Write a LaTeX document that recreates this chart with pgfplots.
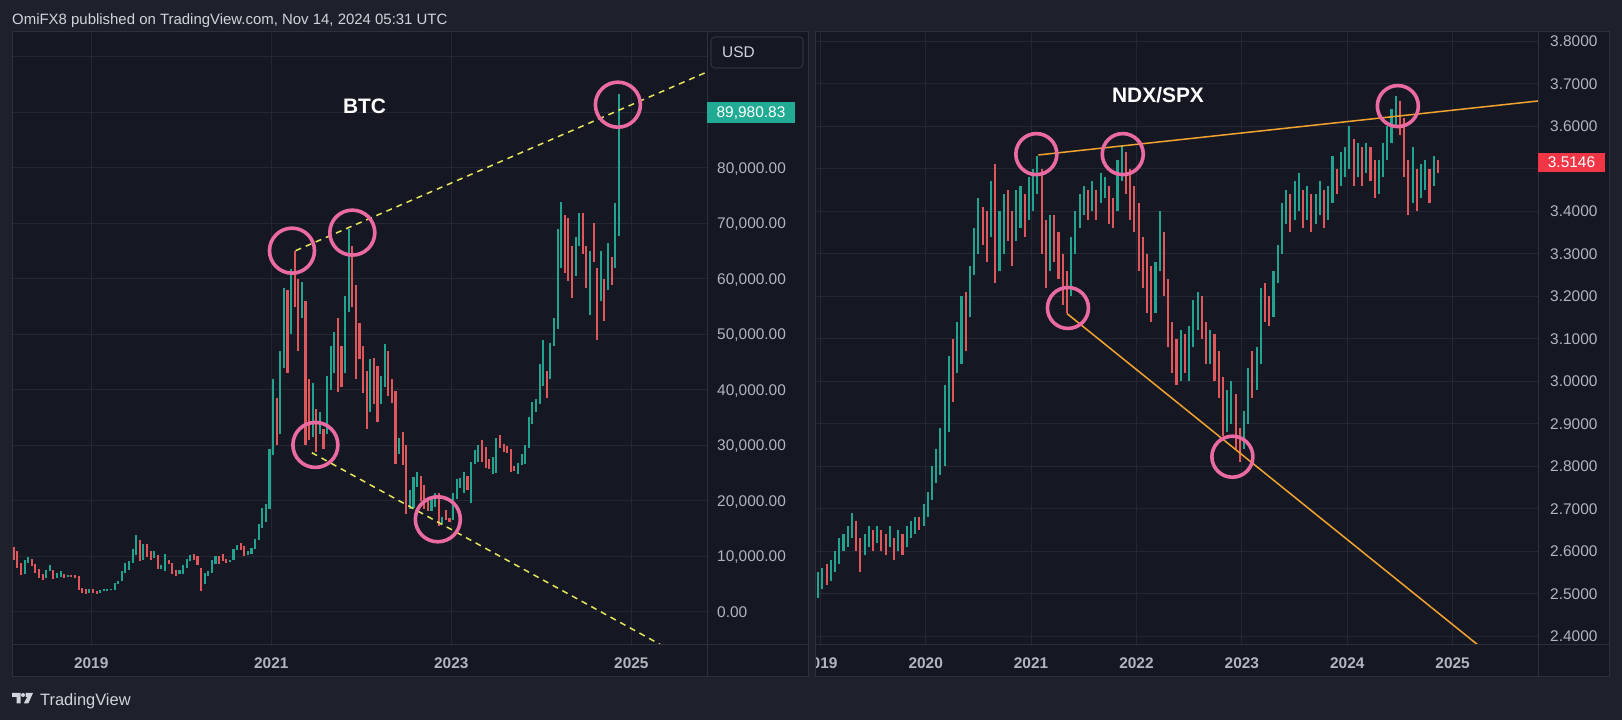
\documentclass[border=0pt]{standalone}
\usepackage{fontspec}
\setmainfont{Liberation Sans}
\usepackage{pgfplots}
\usepackage{pgfplotstable}
\pgfplotsset{compat=1.18}
\definecolor{outerbg}{HTML}{1E212B}
\definecolor{panelbg}{HTML}{151823}
\definecolor{gridc}{HTML}{242733}
\definecolor{framec}{HTML}{2C303B}
\definecolor{labc}{HTML}{B2B5BE}
\definecolor{txtc}{HTML}{D1D4DC}
\definecolor{upc}{HTML}{22A38F}
\definecolor{dnc}{HTML}{E0575B}
\definecolor{pinkc}{HTML}{EC6AA2}
\definecolor{yelc}{HTML}{E6E45A}
\definecolor{orac}{HTML}{F2A32F}
\definecolor{tealbox}{HTML}{22AB94}
\definecolor{redbox}{HTML}{F23645}

% BTC (thousand USD): x low high
\pgfplotstableread{
x l h
2018.26 6.8 9.3
2018.30 8.8 9.9
2018.50 6.2 7.6
2018.54 7.3 8.5
2018.62 6.2 7.0
2018.66 6.3 7.4
2018.74 6.3 6.7
2018.98 3.5 4.2
2019.10 3.4 4.0
2019.14 3.7 4.2
2019.18 3.8 4.1
2019.22 3.9 4.2
2019.26 4.0 5.3
2019.30 5.0 5.6
2019.34 5.6 7.4
2019.38 7.0 8.9
2019.42 7.6 9.2
2019.46 8.8 11.4
2019.50 10.3 13.8
2019.58 9.4 12.2
2019.70 9.8 10.9
2019.78 7.7 8.5
2019.82 7.3 10.5
2019.98 6.9 7.5
2020.02 6.9 8.5
2020.06 8.0 9.6
2020.10 9.2 10.2
2020.26 5.0 7.0
2020.30 6.5 7.4
2020.34 7.0 9.4
2020.38 8.6 10.0
2020.54 9.0 9.4
2020.58 9.3 11.4
2020.62 11.1 12.1
2020.74 10.2 11.0
2020.78 10.4 11.5
2020.82 11.3 13.2
2020.86 13.0 15.9
2020.90 15.2 18.8
2020.94 16.2 19.5
2020.98 18.5 29.3
2021.02 28.2 41.9
2021.10 32.0 47.0
2021.14 44.0 58.4
2021.22 50.0 61.8
2021.34 53.0 59.5
2021.46 31.5 41.3
2021.54 32.0 36.0
2021.62 32.0 42.5
2021.66 40.0 48.0
2021.70 43.0 50.5
2021.82 43.0 57.0
2021.86 54.0 69.0
2022.10 36.0 45.5
2022.22 37.5 42.5
2022.26 40.5 48.2
2022.42 28.5 31.3
2022.54 18.6 22.0
2022.58 18.8 24.3
2022.62 22.5 25.2
2022.78 18.2 20.5
2022.82 19.0 21.5
2022.90 15.8 17.2
2023.02 16.5 21.5
2023.06 20.4 23.9
2023.10 22.4 24.2
2023.14 21.4 25.2
2023.22 19.6 27.0
2023.26 26.6 29.2
2023.30 27.0 30.0
2023.46 24.8 28.0
2023.50 25.0 31.4
2023.74 24.9 26.8
2023.78 26.5 28.5
2023.82 26.6 30.0
2023.86 29.5 35.2
2023.90 33.9 37.9
2023.94 36.0 38.4
2023.98 37.5 44.7
2024.02 40.8 49.0
2024.10 42.0 48.5
2024.14 48.0 53.0
2024.18 51.0 69.0
2024.22 62.0 73.8
2024.38 60.5 67.5
2024.42 66.0 71.9
2024.54 53.5 65.0
2024.66 56.0 65.0
2024.74 58.0 66.5
2024.82 62.0 73.6
2024.86 67.8 93.3
}\btcU
\pgfplotstableread{
x l h
2018.14 9.4 11.7
2018.18 8.0 11.0
2018.22 6.6 8.9
2018.34 8.2 9.6
2018.38 7.1 8.6
2018.42 6.1 7.7
2018.46 5.8 6.8
2018.58 6.0 7.6
2018.70 6.2 6.9
2018.78 6.3 6.6
2018.82 6.2 6.6
2018.86 3.9 6.5
2018.90 3.5 4.4
2018.94 3.2 4.1
2019.02 3.4 4.1
2019.06 3.3 3.7
2019.54 9.1 12.9
2019.62 9.9 12.3
2019.66 9.4 10.9
2019.74 7.8 10.2
2019.86 8.6 9.4
2019.90 6.8 8.8
2019.94 6.5 7.6
2020.14 9.4 10.5
2020.18 8.4 10.0
2020.22 3.8 8.0
2020.42 8.7 10.1
2020.46 9.1 10.4
2020.50 8.9 9.6
2020.66 11.2 12.4
2020.70 10.0 11.8
2021.06 30.0 38.5
2021.18 43.0 58.0
2021.26 55.0 65.1
2021.30 47.0 60.0
2021.38 30.0 56.0
2021.42 31.0 42.0
2021.50 28.8 36.5
2021.58 29.3 33.0
2021.74 39.6 52.9
2021.78 40.6 48.0
2021.90 55.0 66.0
2021.94 42.0 59.0
2021.98 45.5 52.0
2022.02 39.5 48.0
2022.06 33.0 43.5
2022.14 37.5 45.8
2022.18 34.3 44.4
2022.30 39.0 47.0
2022.34 37.7 42.0
2022.38 26.7 39.9
2022.46 26.5 32.4
2022.50 17.6 30.0
2022.66 20.0 24.5
2022.70 18.5 22.8
2022.74 18.2 20.5
2022.86 15.5 21.4
2022.94 16.5 18.4
2022.98 16.3 17.0
2023.18 22.0 24.5
2023.34 27.0 31.0
2023.38 26.0 29.8
2023.42 25.8 27.5
2023.54 29.5 31.8
2023.58 28.9 30.3
2023.62 28.7 29.9
2023.66 25.2 29.3
2023.70 25.4 26.3
2024.06 38.5 43.5
2024.26 61.0 71.5
2024.30 59.6 71.0
2024.34 56.5 66.0
2024.46 64.5 71.9
2024.50 58.4 66.0
2024.58 63.0 70.0
2024.62 49.0 62.0
2024.70 52.5 60.0
2024.78 59.0 64.0
}\btcD

% NDX/SPX: x low high
\pgfplotstableread{
x l h
2018.98 2.49 2.55
2019.02 2.51 2.56
2019.10 2.53 2.58
2019.14 2.55 2.60
2019.18 2.57 2.63
2019.22 2.60 2.64
2019.26 2.61 2.66
2019.30 2.63 2.69
2019.42 2.59 2.64
2019.46 2.61 2.66
2019.54 2.62 2.66
2019.66 2.61 2.66
2019.74 2.60 2.65
2019.82 2.61 2.66
2019.86 2.63 2.67
2019.90 2.64 2.68
2019.98 2.66 2.71
2020.02 2.68 2.74
2020.06 2.72 2.80
2020.10 2.76 2.84
2020.14 2.78 2.89
2020.18 2.80 2.99
2020.22 2.88 3.06
2020.30 3.02 3.14
2020.34 3.04 3.20
2020.42 3.15 3.27
2020.46 3.25 3.36
2020.50 3.30 3.43
2020.62 3.34 3.47
2020.70 3.26 3.40
2020.74 3.30 3.44
2020.86 3.33 3.45
2020.90 3.36 3.46
2020.98 3.38 3.48
2021.02 3.40 3.50
2021.06 3.44 3.53
2021.18 3.26 3.39
2021.38 3.20 3.34
2021.42 3.30 3.40
2021.46 3.36 3.44
2021.50 3.39 3.46
2021.58 3.40 3.47
2021.66 3.42 3.49
2021.70 3.43 3.48
2021.82 3.40 3.52
2021.86 3.47 3.555
2022.18 3.16 3.28
2022.22 3.26 3.40
2022.42 3.00 3.12
2022.50 3.00 3.13
2022.54 3.08 3.19
2022.58 3.12 3.21
2022.70 3.04 3.12
2022.86 2.88 2.98
2022.90 2.90 3.00
2023.02 2.84 2.93
2023.06 2.90 3.03
2023.14 2.98 3.08
2023.18 3.04 3.22
2023.30 3.15 3.26
2023.34 3.23 3.32
2023.38 3.30 3.42
2023.42 3.37 3.45
2023.50 3.38 3.47
2023.54 3.40 3.49
2023.62 3.38 3.46
2023.70 3.37 3.44
2023.74 3.39 3.47
2023.82 3.38 3.46
2023.86 3.42 3.53
2023.94 3.46 3.54
2023.98 3.48 3.55
2024.02 3.50 3.60
2024.10 3.48 3.56
2024.18 3.49 3.56
2024.30 3.44 3.52
2024.34 3.48 3.56
2024.38 3.52 3.60
2024.42 3.56 3.64
2024.46 3.60 3.67
2024.62 3.42 3.55
2024.70 3.43 3.51
2024.74 3.45 3.52
2024.82 3.46 3.53
}\ndxU
\pgfplotstableread{
x l h
2019.06 2.52 2.57
2019.34 2.60 2.67
2019.38 2.55 2.63
2019.50 2.60 2.65
2019.58 2.60 2.65
2019.62 2.59 2.64
2019.70 2.58 2.63
2019.78 2.59 2.64
2019.94 2.65 2.68
2020.26 2.95 3.10
2020.38 3.07 3.21
2020.54 3.32 3.41
2020.58 3.28 3.40
2020.66 3.23 3.51
2020.78 3.33 3.45
2020.82 3.27 3.40
2020.94 3.34 3.44
2021.10 3.30 3.50
2021.14 3.22 3.38
2021.22 3.28 3.39
2021.26 3.24 3.35
2021.30 3.18 3.30
2021.34 3.16 3.26
2021.54 3.38 3.45
2021.62 3.38 3.45
2021.74 3.37 3.46
2021.78 3.36 3.43
2021.90 3.44 3.54
2021.94 3.38 3.50
2021.98 3.35 3.46
2022.02 3.26 3.42
2022.06 3.22 3.34
2022.10 3.16 3.30
2022.14 3.14 3.27
2022.26 3.20 3.35
2022.30 3.08 3.24
2022.34 3.02 3.14
2022.38 2.99 3.10
2022.46 3.02 3.11
2022.62 3.10 3.20
2022.66 3.04 3.14
2022.74 3.00 3.11
2022.78 2.96 3.07
2022.82 2.87 3.01
2022.94 2.84 2.97
2022.98 2.81 2.89
2023.10 2.96 3.07
2023.22 3.14 3.23
2023.26 3.13 3.20
2023.46 3.35 3.44
2023.58 3.36 3.45
2023.66 3.35 3.44
2023.78 3.36 3.45
2023.90 3.44 3.50
2024.06 3.46 3.57
2024.14 3.46 3.55
2024.22 3.47 3.55
2024.26 3.43 3.52
2024.50 3.58 3.66
2024.54 3.48 3.62
2024.58 3.39 3.52
2024.66 3.40 3.50
2024.78 3.42 3.50
2024.86 3.49 3.52
}\ndxD

\pgfplotsset{
  tv/.style={
    scale only axis,
    axis line style={draw=none},
    major tick length=0pt,
    grid=major,
    grid style={draw=gridc, line width=1bp},
    tick label style={font=\fontsize{15.5}{18}\selectfont, text=labc},
    yticklabel pos=right,
    yticklabel style={anchor=base west, inner sep=0pt, xshift=#1, yshift=-5.5bp},
    xticklabel style={anchor=base, inner sep=0pt, yshift=-23.5bp, font=\fontsize{15.5}{18}\selectfont\bfseries},
    clip=true,
  },
  candle/.style={draw=none, no markers, forget plot,
    error bars/.cd, y dir=plus, y explicit, error mark=none,
    error bar style={draw=#1, line width=2.1bp}},
}

\begin{document}
\begin{tikzpicture}[x=1bp,y=1bp]
\useasboundingbox (0,0) rectangle (1622,720);
\fill[outerbg] (0,0) rectangle (1622,720);
\fill[panelbg] (12,43) rectangle (808,688);
\fill[panelbg] (815,43) rectangle (1609,688);

% ---------------- BTC ----------------
\begin{axis}[tv=10bp,
  at={(12bp,75bp)}, anchor=south west, width=695bp, height=613bp,
  xmin=2018.12, xmax=2025.84, ymin=-5.95, ymax=104.5,
  xtick={2019,2021,2023,2025}, xticklabels={2019,2021,2023,2025},
  ytick={0,10,20,30,40,50,60,70,80,90,100},
  yticklabels={{0.00},{10,000.00},{20,000.00},{30,000.00},{40,000.00},{50,000.00},{60,000.00},{70,000.00},{80,000.00},{},{}},
]
\addplot[candle=upc] table[x=x, y=l, y error expr=\thisrow{h}-\thisrow{l}] {\btcU};
\addplot[candle=dnc] table[x=x, y=l, y error expr=\thisrow{h}-\thisrow{l}] {\btcD};
\addplot[yelc, line width=1.5bp, dash pattern=on 6bp off 5bp] coordinates {(2021.27,65.1) (2025.84,97.3)};
\addplot[yelc, line width=1.5bp, dash pattern=on 6bp off 5bp] coordinates {(2021.45,28.7) (2025.84,-10.5)};
\addplot[only marks, mark=o, mark size=22.5bp, mark options={draw=pinkc, line width=3.6bp}]
  coordinates {(2021.23,65.1) (2021.90,68.35) (2021.49,30.1) (2022.85,16.7) (2024.85,91.4)};
\end{axis}

% ---------------- NDX/SPX ----------------
\begin{axis}[tv=12bp,
  at={(815bp,75bp)}, anchor=south west, width=723bp, height=612bp,
  xmin=2018.95, xmax=2025.81, ymin=2.379, ymax=3.819,
  xtick={2019,2020,2021,2022,2023,2024,2025},
  xticklabels={2019,2020,2021,2022,2023,2024,2025},
  ytick={2.4,2.5,2.6,2.7,2.8,2.9,3.0,3.1,3.2,3.3,3.4,3.5,3.6,3.7,3.8},
  yticklabels={2.4000,2.5000,2.6000,2.7000,2.8000,2.9000,3.0000,3.1000,3.2000,3.3000,3.4000,{},3.6000,3.7000,3.8000},
]
\addplot[candle=upc] table[x=x, y=l, y error expr=\thisrow{h}-\thisrow{l}] {\ndxU};
\addplot[candle=dnc] table[x=x, y=l, y error expr=\thisrow{h}-\thisrow{l}] {\ndxD};
\addplot[orac, line width=1.5bp] coordinates {(2021.07,3.532) (2025.81,3.659)};
\addplot[orac, line width=1.5bp] coordinates {(2021.34,3.159) (2025.81,2.265)};
\addplot[only marks, mark=o, mark size=20.5bp, mark options={draw=pinkc, line width=3.6bp}]
  coordinates {(2021.05,3.534) (2021.87,3.534) (2021.35,3.172) (2022.91,2.822) (2024.48,3.647)};
\end{axis}

% hide the part of the right "2019" label outside its panel
\fill[panelbg] (790,43.5) rectangle (808,74.5);
\fill[outerbg] (808,43) rectangle (815,688);

% frames
\draw[framec, line width=1bp] (12,43) rectangle (808,688);
\draw[framec, line width=1bp] (12,75) -- (808,75);
\draw[framec, line width=1bp] (707,43) -- (707,688);
\draw[framec, line width=1bp] (815,43) rectangle (1609,688);
\draw[framec, line width=1bp] (815,75) -- (1609,75);
\draw[framec, line width=1bp] (1538,43) -- (1538,688);

% titles
\node[anchor=base, inner sep=0pt, text=white, font=\fontsize{21}{24}\selectfont\bfseries] at (364.5,606.5) {BTC};
\node[anchor=base, inner sep=0pt, text=white, font=\fontsize{21}{24}\selectfont\bfseries] at (1158,617) {NDX/SPX};

% USD box
\draw[draw=framec, fill=panelbg, rounded corners=4bp, line width=1.2bp] (711,652) rectangle (803,683);
\node[anchor=base west, inner sep=0pt, text=txtc, font=\fontsize{15.5}{18}\selectfont] at (722,662.5) {USD};

% last price labels
\fill[tealbox] (707,597) rectangle (795,618);
\node[anchor=base, inner sep=0pt, text=white, font=\fontsize{15.5}{18}\selectfont] at (751,602) {89,980.83};
% the 3.5000 scale label, mostly hidden behind the last-price label
\begin{scope}
\clip (1540,530) rectangle (1609,547.5);
\node[anchor=base west, inner sep=0pt, text=labc, font=\fontsize{15.5}{18}\selectfont] at (1550,548.5) {3.5000};
\end{scope}
\fill[redbox] (1538,548) rectangle (1605,567);
\node[anchor=base, inner sep=0pt, text=white, font=\fontsize{15.5}{18}\selectfont] at (1571.5,552) {3.5146};

% header
\node[anchor=base west, inner sep=0pt, text=txtc, font=\fontsize{15}{18}\selectfont] at (12,695.5) {OmiFX8 published on TradingView.com, Nov 14, 2024 05:31 UTC};

% footer logo
\fill[txtc] (12,27) -- (20.5,27) -- (20.5,16.5) -- (16.5,16.5) -- (16.5,23) -- (12,23) -- cycle;
\fill[txtc] (23,25) circle (2bp);
\fill[txtc] (25.5,27) -- (33,27) -- (28.3,16.5) -- (23.8,16.5) -- (27.3,23.2) -- (25.5,23.2) -- cycle;
\node[anchor=base west, inner sep=0pt, text=txtc, font=\fontsize{16.5}{19}\selectfont] at (40,14.6) {TradingView};
\end{tikzpicture}
\end{document}
